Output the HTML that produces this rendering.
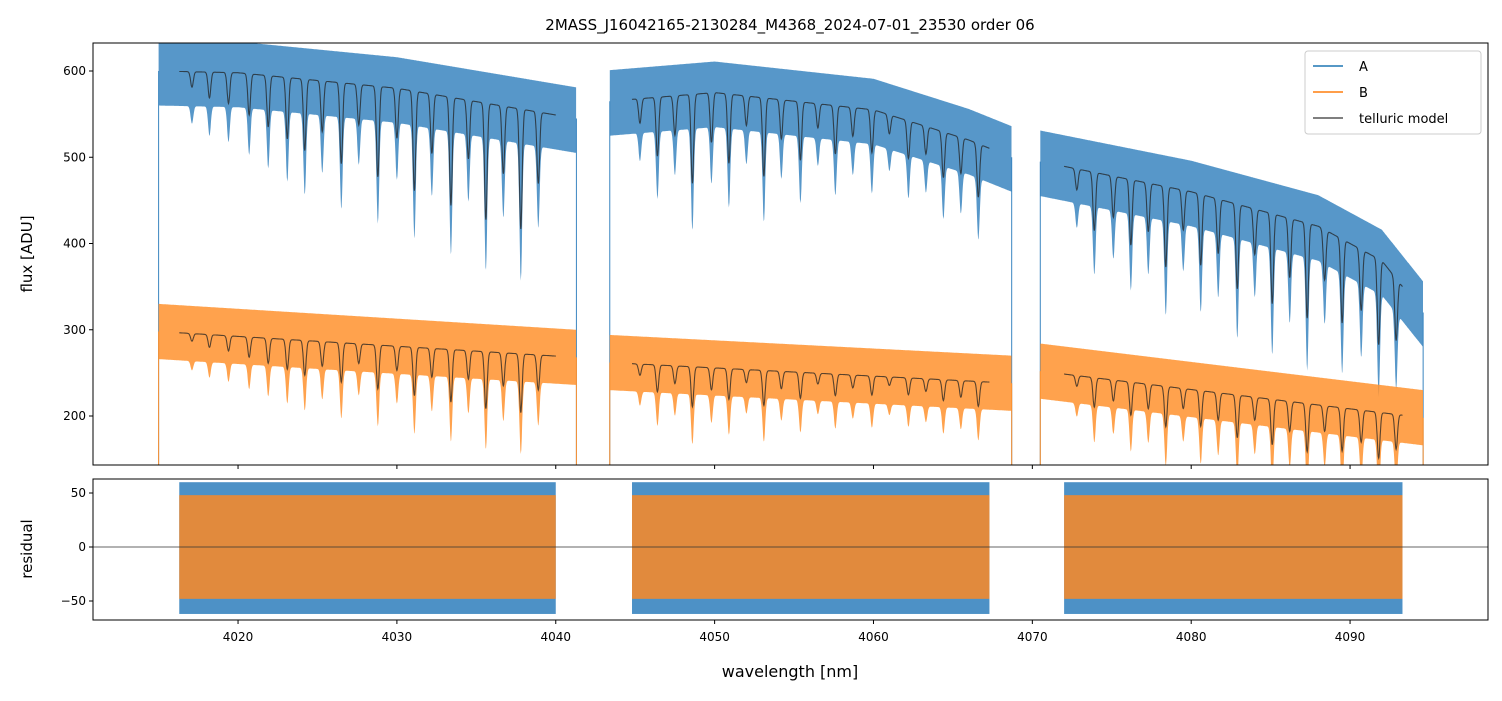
<!DOCTYPE html>
<html><head><meta charset="utf-8"><style>
body{margin:0;background:#fff;font-family:"Liberation Sans","DejaVu Sans",sans-serif}
svg text{font-family:"DejaVu Sans","Liberation Sans",sans-serif}
</style></head><body>
<svg id="c" width="1502" height="696" xmlns="http://www.w3.org/2000/svg">
<rect width="1502" height="696" fill="#fff"/>
<text x="790" y="30" font-size="15" text-anchor="middle">2MASS_J16042165-2130284_M4368_2024-07-01_23530  order 06</text>
<text transform="translate(32,254) rotate(-90)" font-size="15" text-anchor="middle">flux [ADU]</text>
<text transform="translate(32,549) rotate(-90)" font-size="15" text-anchor="middle">residual</text>
<text x="790" y="677" font-size="16" text-anchor="middle">wavelength [nm]</text>
<defs><clipPath id="cm"><rect x="93" y="43" width="1395" height="422"/></clipPath>
<clipPath id="cr"><rect x="93" y="479" width="1395" height="141"/></clipPath></defs>
<g id="main" clip-path="url(#cm)"></g>
<g id="res" clip-path="url(#cr)"></g>
<g id="axes"></g>
</svg>
<script>
// data
const segStartA=[4015.0,4043.4,4070.5];
const segEndA=[4041.3,4068.7,4094.6];
const modelStart=[4016.3,4044.8,4072.0];
const modelEnd=[4040.0,4067.3,4093.3];
const contWA=[4015,4020,4030,4041.3,4043.4,4050,4060,4066,4068.7,4070.5,4080,4088,4092,4094.6];
const contVA=[600,598,580,545,565,575,555,520,500,495,460,420,380,320];
const contWB=[4015,4041.3,4043.4,4068.7,4070.5,4094.6];
const contVB=[298,268,262,238,252,198];
const lineW=[4017.1,4018.2,4019.4,4020.7,4021.9,4023.1,4024.2,4025.3,4026.5,4027.6,4028.8,4030.0,4031.1,4032.2,4033.4,4034.5,4035.6,4036.7,4037.8,4038.9,
4045.3,4046.4,4047.5,4048.6,4049.8,4050.9,4052.0,4053.1,4054.2,4055.4,4056.5,4057.6,4058.7,4059.9,4061.0,4062.2,4063.3,4064.4,4065.5,4066.6,
4072.8,4073.9,4075.1,4076.2,4077.3,4078.4,4079.5,4080.6,4081.7,4082.9,4084.0,4085.1,4086.2,4087.3,4088.4,4089.5,4090.7,4091.8,4092.9];
const lineD=[0.03,0.05,0.06,0.08,0.1,0.12,0.14,0.1,0.16,0.08,0.18,0.1,0.2,0.12,0.22,0.12,0.24,0.14,0.25,0.15,
0.05,0.12,0.08,0.18,0.1,0.14,0.06,0.16,0.08,0.12,0.05,0.1,0.06,0.09,0.04,0.08,0.06,0.1,0.08,0.12,
0.05,0.14,0.1,0.16,0.12,0.2,0.1,0.18,0.14,0.22,0.12,0.24,0.16,0.26,0.14,0.24,0.18,0.26,0.2];
const xTicks=[4020,4030,4040,4050,4060,4070,4080,4090];
const yTicks=[200,300,400,500,600];
const rTicks=[-50,0,50];

const X=w=>93+(w-4010.87)*15.886;
const Y=v=>465-(v-143.2)*0.8625;
const YR=v=>547-v*1.08;
const NS='http://www.w3.org/2000/svg';
function mk(t,a,p){const e=document.createElementNS(NS,t);for(const k in a)e.setAttribute(k,a[k]);p.appendChild(e);return e;}
function interp(ws,vs,w){for(let i=0;i<ws.length-1;i++){if(w>=ws[i]&&w<=ws[i+1])return vs[i]+(vs[i+1]-vs[i])*(w-ws[i])/(ws[i+1]-ws[i]);}return w<ws[0]?vs[0]:vs[vs.length-1];}
function trans(w){let t=1;for(let i=0;i<lineW.length;i++){const d=(w-lineW[i])/0.12;t*=1-lineD[i]*Math.exp(-d*d);}return t;}
const main=document.getElementById('main'),res=document.getElementById('res'),ax=document.getElementById('axes');

function band(ws,we,cw,cv,up,lo,color,name){
  let top='',bot=[];
  for(let w=ws;w<=we;w+=0.03){const c=interp(cw,cv,w);const t=trans(w);const m=c*t;
    top+=(top?'L':'M')+X(w).toFixed(1)+','+Y(c+up).toFixed(1);
    bot.push(X(w).toFixed(1)+','+Y(m-lo-(1-t)*lo*2).toFixed(1));}
  const p=mk('path',{d:top+'L'+bot.reverse().join('L')+'Z',fill:color,'fill-opacity':0.85},main);
  
  
  mk('line',{x1:X(ws),x2:X(ws),y1:Y(interp(cw,cv,ws)),y2:470,stroke:color,'stroke-width':1},main);
  mk('line',{x1:X(we),x2:X(we),y1:Y(interp(cw,cv,we)),y2:470,stroke:color,'stroke-width':1},main);
}
function model(ws,we,cw,cv,name){
  let d='';for(let w=ws;w<=we;w+=0.02){d+=(d?'L':'M')+X(w).toFixed(1)+','+Y(interp(cw,cv,w)*trans(w)).toFixed(1);}
  const p=mk('path',{d:d,fill:'none',stroke:'#222','stroke-opacity':0.75,'stroke-width':1.1},main);
  
  
}
for(let s=0;s<3;s++){
  band(segStartA[s],segEndA[s],contWA,contVA,36,40,'#3a85c0','spectrum-a-seg'+(s+1));
  band(segStartA[s],segEndA[s],contWB,contVB,32,32,'#ff922e','spectrum-b-seg'+(s+1));
  model(modelStart[s],modelEnd[s],contWA,contVA,'model-a-seg'+(s+1));
  model(modelStart[s],modelEnd[s],contWB,contVB,'model-b-seg'+(s+1));
  const ra=mk('rect',{x:X(modelStart[s]),y:YR(60),width:X(modelEnd[s])-X(modelStart[s]),height:YR(-62)-YR(60),fill:'#3a85c0','fill-opacity':0.9},res);
  
  
  const rb=mk('rect',{x:X(modelStart[s]),y:YR(48),width:X(modelEnd[s])-X(modelStart[s]),height:YR(-48)-YR(48),fill:'#f28a2e','fill-opacity':0.9},res);
  
  
}
mk('line',{x1:93,x2:1488,y1:YR(0),y2:YR(0),stroke:'#333','stroke-width':0.7},res);
// frames
mk('rect',{x:93,y:43,width:1395,height:422,fill:'none',stroke:'#000','stroke-width':1},ax);
mk('rect',{x:93,y:479,width:1395,height:141,fill:'none',stroke:'#000','stroke-width':1},ax);
xTicks.forEach(t=>{const x=X(t);
  mk('line',{x1:x,x2:x,y1:465,y2:469,stroke:'#000'},ax);
  mk('line',{x1:x,x2:x,y1:620,y2:624,stroke:'#000'},ax);
  const e=mk('text',{x:x,y:641,'font-size':12,'text-anchor':'middle'},ax);e.textContent=t;
  
  });
yTicks.forEach(t=>{const y=Y(t);
  mk('line',{x1:89,x2:93,y1:y,y2:y,stroke:'#000'},ax);
  const e=mk('text',{x:86,y:y+4,'font-size':12,'text-anchor':'end'},ax);e.textContent=t;
  
  });
rTicks.forEach(t=>{const y=YR(t);
  mk('line',{x1:89,x2:93,y1:y,y2:y,stroke:'#000'},ax);
  const e=mk('text',{x:86,y:y+4,'font-size':12,'text-anchor':'end'},ax);e.textContent=t===-50?'\u221250':t;
  
  });
// legend
const lg=mk('g',{},ax);


mk('rect',{x:1305,y:51,width:176,height:83,rx:3,fill:'#fff','fill-opacity':0.85,stroke:'#ccc'},lg);
[['A','#1f77b4',66],['B','#ff7f0e',92],['telluric model','#555',118]].forEach(([n,c,y])=>{
  mk('line',{x1:1313,x2:1343,y1:y,y2:y,stroke:c,'stroke-width':1.5},lg);
  const e=mk('text',{x:1359,y:y+5,'font-size':13},lg);e.textContent=n;
  
  });
</script>
</body></html>
